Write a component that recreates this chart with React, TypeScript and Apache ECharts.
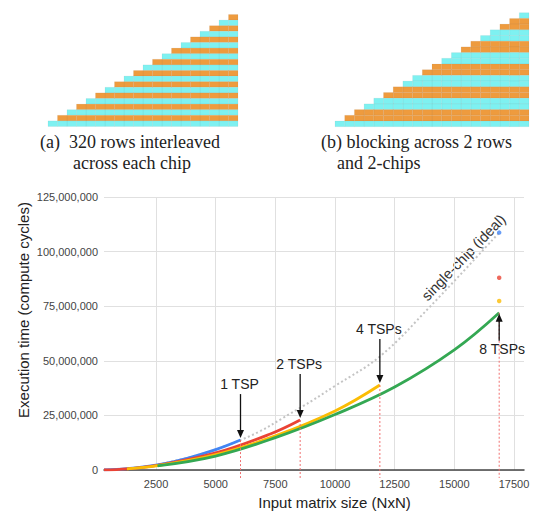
import React, { useEffect, useRef } from 'react';
import * as echarts from 'echarts';

const FONT = '"Liberation Sans", Arial, sans-serif';
const SERIF = '"Liberation Serif", "Times New Roman", serif';
const CYAN = '#7ef1f1';
const ORANGE = '#ee9b3e';

// Matrix row layouts, top row first (top row has one cell): 'o' = orange chip, 'c' = cyan chip
const rowsInterleaved = ['o', 'c', 'o', 'c', 'o', 'c', 'o', 'c', 'o', 'c', 'o', 'c', 'o', 'c', 'o', 'c', 'o', 'c', 'o', 'c'];
const rowsBlocked = ['c', 'o', 'o', 'c', 'c', 'o', 'o', 'c', 'c', 'o', 'o', 'c', 'c', 'o', 'o', 'c', 'c', 'o', 'o', 'c'];
const captionA = ['(a)  320 rows interleaved', 'across each chip'];
const captionB = ['(b) blocking across 2 rows', 'and 2-chips'];

const xTicks = [2500, 5000, 7500, 10000, 12500, 15000, 17500];

// 1 TSP (blue)
const n1 = [320, 1280, 2560, 3840, 5000, 6040];
const t1 = [40000, 600000, 2400000, 5500000, 9300000, 13700000];
// 2 TSPs (red)
const n2 = [320, 1280, 2560, 5000, 7290, 8540];
const t2 = [40000, 550000, 2100000, 7800000, 16500000, 22900000];
// 4 TSPs (yellow)
const n4 = [1280, 2560, 5000, 7500, 10000, 11880];
const t4 = [500000, 2000000, 7000000, 15600000, 27000000, 38900000];
// 8 TSPs (green)
const n8 = [2560, 5000, 7500, 10000, 12500, 15000, 16880];
const t8 = [1900000, 6400000, 14800000, 25400000, 38000000, 55000000, 72000000];
// single-chip (ideal)
const nIdeal = [320, 2560, 6040, 8540, 10000, 11880, 14000, 16880];
const tIdeal = [40000, 2400000, 13700000, 28500000, 38500000, 52000000, 75000000, 108700000];
// projected points at N = 16880
const dotN = 16880;
const dot1 = 108700000;
const dot2 = 88000000;
const dot4 = 77400000;

const tspLabels = ['1 TSP', '2 TSPs', '4 TSPs', '8 TSPs'];

const zip = (n: number[], t: number[]) => n.map((v, i) => [v, t[i]]);
const last = (n: number[], t: number[]) => [n[n.length - 1], t[t.length - 1]];

const cells = (rows: string[]) =>
  rows.flatMap((c, r) =>
    Array.from({ length: r + 1 }, (_, k) => [rows.length - 1 - k, r, c === 'o' ? 1 : 0])
  );

const cellRender = (params: any, api: any) => {
  const c = api.value(0);
  const r = api.value(1);
  const a = api.coord([c, r]);
  const b = api.coord([c + 1, r + 1]);
  return {
    type: 'rect',
    shape: {
      x: Math.min(a[0], b[0]),
      y: Math.min(a[1], b[1]),
      width: Math.abs(b[0] - a[0]),
      height: Math.abs(b[1] - a[1]),
    },
    style: { fill: api.value(2) ? ORANGE : CYAN, stroke: 'rgba(120,120,120,0.18)', lineWidth: 0.4 },
  };
};

export default function App() {
  const ref = useRef<HTMLDivElement>(null);
  useEffect(() => {
    if (!ref.current) return;
    const chart = echarts.init(ref.current, null, { renderer: 'svg' });
    const lineStyle = (color: string) => ({ color, width: 2.8 });
    const curve = { type: 'line', smooth: 0.4, symbol: 'none' };
    const option: any = {
      animation: false,
      backgroundColor: '#fff',
      grid: [
        { left: 104, right: 12, top: 197, bottom: 42 },
        { left: 48, top: 14.5, width: 190, height: 112 },
        { left: 335, top: 12.7, width: 194, height: 114 },
      ],
      xAxis: [
        {
          type: 'value',
          min: 320,
          max: 17920,
          axisLine: { show: true, onZero: false, lineStyle: { color: '#444', width: 1.5 } },
          axisTick: { show: false, customValues: xTicks },
          axisLabel: {
            customValues: xTicks,
            color: '#444',
            fontSize: 11,
            fontFamily: FONT,
            margin: 8,
            formatter: (v: number) => String(v),
          },
          splitLine: { show: true, lineStyle: { color: '#e0e0e0', width: 1 } },
        },
        { gridIndex: 1, type: 'value', min: 0, max: 20, show: false },
        { gridIndex: 2, type: 'value', min: 0, max: 20, show: false },
      ],
      yAxis: [
        {
          type: 'value',
          min: 0,
          max: 125000000,
          interval: 25000000,
          axisLine: { show: false },
          axisTick: { show: false },
          axisLabel: {
            color: '#444',
            fontSize: 11,
            fontFamily: FONT,
            margin: 6,
            formatter: (v: number) => String(v).replace(/\B(?=(\d{3})+(?!\d))/g, ','),
          },
          splitLine: { show: true, lineStyle: { color: '#e0e0e0', width: 1 } },
        },
        { gridIndex: 1, type: 'value', min: 0, max: 20, inverse: true, show: false },
        { gridIndex: 2, type: 'value', min: 0, max: 20, inverse: true, show: false },
      ],
      series: [
        {
          type: 'custom',
          xAxisIndex: 1,
          yAxisIndex: 1,
          data: cells(rowsInterleaved),
          renderItem: cellRender,
        },
        {
          type: 'custom',
          xAxisIndex: 2,
          yAxisIndex: 2,
          data: cells(rowsBlocked),
          renderItem: cellRender,
        },
        {
          ...curve,
          name: 'single-chip (ideal)',
          z: 1,
          lineStyle: { color: '#c4c4c4', width: 2, type: [2, 2.5] },
          data: zip(nIdeal, tIdeal),
        },
        { ...curve, name: '1 TSP', z: 2, lineStyle: lineStyle('#4285f4'), data: zip(n1, t1) },
        { ...curve, name: '2 TSPs', z: 3, lineStyle: lineStyle('#ea4335'), data: zip(n2, t2) },
        { ...curve, name: '4 TSPs', z: 4, lineStyle: lineStyle('#fbbc04'), data: zip(n4, t4) },
        { ...curve, name: '8 TSPs', z: 5, lineStyle: lineStyle('#34a853'), data: zip(n8, t8) },
        {
          type: 'scatter',
          symbolSize: 4.5,
          z: 6,
          data: [
            { value: [dotN, dot1], itemStyle: { color: '#4285f4' } },
            { value: [dotN, dot2], itemStyle: { color: '#ea4335' } },
            { value: [dotN, dot4], itemStyle: { color: '#fbbc04' } },
          ],
        },
        {
          type: 'custom',
          z: 7,
          clip: false,
          data: [last(n1, t1), last(n2, t2), last(n4, t4), last(n8, t8)],
          renderItem: (params: any, api: any) => {
            const i = params.dataIndex;
            const x = api.value(0);
            const p = api.coord([x, api.value(1)]);
            const b = api.coord([x, 0]);
            const up = i === 3;
            let tipY: number, tailY: number, labelY: number, dir: number;
            if (!up) {
              tipY = p[1] - 2;
              tailY = tipY - 44;
              labelY = tailY - 10;
              dir = 1;
            } else {
              tipY = p[1] + 1;
              tailY = tipY + 27;
              labelY = tailY + 8;
              dir = -1;
            }
            return {
              type: 'group',
              children: [
                {
                  type: 'line',
                  shape: { x1: p[0], y1: p[1], x2: p[0], y2: b[1] + 8 },
                  style: { stroke: '#f07070', lineWidth: 1, lineDash: [2, 2] },
                },
                {
                  type: 'line',
                  shape: { x1: p[0], y1: tailY, x2: p[0], y2: tipY - dir * 6 },
                  style: { stroke: '#111', lineWidth: 1.3 },
                },
                {
                  type: 'polygon',
                  shape: {
                    points: [
                      [p[0] - 3.5, tipY - dir * 8],
                      [p[0] + 3.5, tipY - dir * 8],
                      [p[0], tipY],
                    ],
                  },
                  style: { fill: '#111' },
                },
                {
                  type: 'text',
                  x: p[0] + (up ? 3 : -1),
                  y: labelY,
                  style: {
                    text: tspLabels[i],
                    fontSize: 14,
                    fontFamily: FONT,
                    fill: '#222',
                    align: 'center',
                    verticalAlign: 'middle',
                  },
                },
              ],
            };
          },
        },
      ],
      graphic: [
        { type: 'text', x: 40, y: 142, style: { text: captionA[0], fontSize: 18, fontFamily: SERIF, fill: '#222', align: 'left', verticalAlign: 'middle' } },
        { type: 'text', x: 73, y: 163, style: { text: captionA[1], fontSize: 18, fontFamily: SERIF, fill: '#222', align: 'left', verticalAlign: 'middle' } },
        { type: 'text', x: 321, y: 142, style: { text: captionB[0], fontSize: 18, fontFamily: SERIF, fill: '#222', align: 'left', verticalAlign: 'middle' } },
        { type: 'text', x: 337, y: 163, style: { text: captionB[1], fontSize: 18, fontFamily: SERIF, fill: '#222', align: 'left', verticalAlign: 'middle' } },
        {
          type: 'text',
          x: 23,
          y: 310,
          rotation: Math.PI / 2,
          style: { text: 'Execution time (compute cycles)', fontSize: 15, fontFamily: FONT, fill: '#222', align: 'center', verticalAlign: 'middle' },
        },
        {
          type: 'text',
          x: 334.5,
          y: 502,
          style: { text: 'Input matrix size (NxN)', fontSize: 15, fontFamily: FONT, fill: '#222', align: 'center', verticalAlign: 'middle' },
        },
        {
          type: 'text',
          x: 463.5,
          y: 257.5,
          rotation: (46 * Math.PI) / 180,
          style: { text: 'single-chip (ideal)', fontSize: 14.5, fontFamily: FONT, fill: '#333', align: 'center', verticalAlign: 'middle' },
        },
      ],
    };
    chart.setOption(option);
    return () => chart.dispose();
  }, []);
  return <div ref={ref} style={{ position: 'fixed', left: 0, top: 0, width: 536, height: 512 }} />;
}
